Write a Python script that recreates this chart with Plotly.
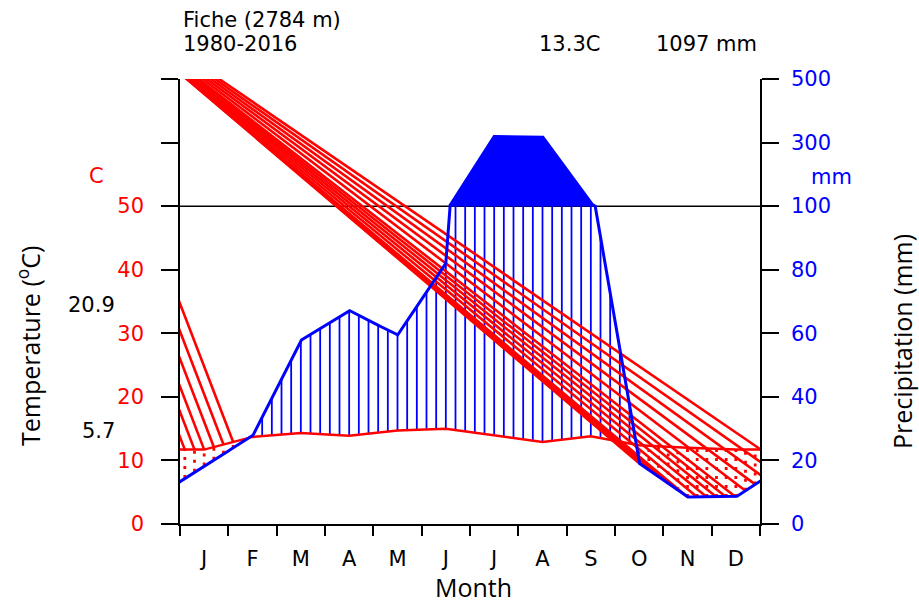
import numpy as np
import plotly.graph_objects as go

# ---------------- data ----------------
months = ["J", "F", "M", "A", "M", "J", "J", "A", "S", "O", "N", "D"]
temp_mean = [11.7, 13.7, 14.3, 13.9, 14.7, 15.0, 13.9, 12.9, 13.8, 12.4, 12.0, 11.7]
precip_mm = [18.4, 27.6, 57.8, 67.2, 59.4, 82.0, 319.0, 319.0, 108.0, 19.1, 8.5, 8.5]
station = "Fiche (2784 m)"
period = "1980-2016"
annual_temp = "13.3C"
annual_precip = "1097 mm"
max_warm_month = "20.9"
min_cold_month = "5.7"
temp_tick_vals = [0, 10, 20, 30, 40, 50]
precip_tick_vals = [0, 10, 20, 30, 40, 50, 60, 70]
precip_tick_text = ["0", "20", "40", "60", "80", "100", "300", "500"]

RED = "#FF0000"
BLUE = "#0000FF"
W, H = 919, 604
L, R, T, B = 180, 159, 79, 80
PW, PH = W - L - R, H - T - B


def scale_p(p):
    p = np.asarray(p, float)
    return np.where(p <= 100, p / 2.0, 50 + (p - 100) / 20.0)


def px(xp):
    return (xp - L) / PW


def py(yp):
    return (H - B - yp) / PH


x_ext = np.concatenate([[-0.5], np.arange(12) + 0.5, [12.5]])
t_ext = np.array([temp_mean[-1]] + temp_mean + [temp_mean[0]])
p_ext = np.array([precip_mm[-1]] + precip_mm + [precip_mm[0]])

# hatching grid of 0.2 month
xg = -0.5 + 0.2 * np.arange(66)
tg = np.interp(xg, x_ext, t_ext)
pg = scale_p(np.interp(xg, x_ext, p_ext))

# fine curve for compressed precipitation line
xf = np.linspace(-0.5, 12.5, 2601)
pf = scale_p(np.interp(xf, x_ext, p_ext))

fig = go.Figure()

# 100 mm reference line
fig.add_trace(go.Scatter(x=[0, 12], y=[50, 50], mode="lines",
                         line=dict(color="black", width=1.5), hoverinfo="skip"))

# filled area above 100 mm
m = pf > 50
fx = np.concatenate([xf[m], xf[m][::-1]])
fy = np.concatenate([pf[m], np.full(m.sum(), 50.0)])
fig.add_trace(go.Scatter(x=fx, y=fy, mode="lines", fill="toself", fillcolor=BLUE,
                         line=dict(color=BLUE, width=0.5), hoverinfo="skip"))

# wet period vertical lines
wx, wy = [], []
for x, t, p in zip(xg, tg, pg):
    if p > t:
        wx += [x, x, None]
        wy += [t, min(p, 50), None]
fig.add_trace(go.Scatter(x=wx, y=wy, mode="lines", line=dict(color=BLUE, width=1.8),
                         hoverinfo="skip"))

# dry period dotted lines
dx, dy = [], []
for x, t, p in zip(xg, tg, pg):
    if t > p:
        dx += [x, x, None]
        dy += [p, t, None]
fig.add_trace(go.Scatter(x=dx, y=dy, mode="lines",
                         line=dict(color=RED, width=2.8, dash="3px,6px"), hoverinfo="skip"))

# slanted red hatching of the dry periods, as it appears in the reference
# early-year part: parallel strokes ending on the temperature curve
slope_jan = 19.8          # deg C per month
hx, hy = [], []
for x, t, p in zip(xg, tg, pg):
    if t > p and 0.0 < x < 1.2:
        hx += [x - 2.0, x, None]
        hy += [t + 2.0 * slope_jan, t, None]
# late-year part: strokes converging towards a point far up-left
ox, oy = -2.65, 88.0
for x, t, p in zip(xg, tg, pg):
    if t > p and x > 6:
        hx += [ox, x, None]
        hy += [oy, p, None]
fig.add_trace(go.Scatter(x=hx, y=hy, mode="lines", line=dict(color=RED, width=2.6),
                         hoverinfo="skip"))

# temperature curve
fig.add_trace(go.Scatter(x=x_ext, y=t_ext, mode="lines", line=dict(color=RED, width=2.5),
                         hoverinfo="skip"))
# precipitation curve
fig.add_trace(go.Scatter(x=xf, y=pf, mode="lines", line=dict(color=BLUE, width=3),
                         hoverinfo="skip"))
# invisible trace for the right axis
fig.add_trace(go.Scatter(x=[0], y=[0], yaxis="y2", mode="markers",
                         marker=dict(opacity=0), hoverinfo="skip"))

TF = "DejaVu Sans"
FS = 21
fig.update_layout(
    width=W, height=H, margin=dict(l=L, r=R, t=T, b=B),
    paper_bgcolor="white", plot_bgcolor="white", showlegend=False,
    xaxis=dict(range=[0, 12], showgrid=False, zeroline=False, showline=True,
               linecolor="black", linewidth=1.5,
               tickvals=[i + 0.5 for i in range(12)], ticktext=months, ticks="",
               tickfont=dict(family=TF, size=FS, color="black"),
               ticklabelstandoff=15,
               minor=dict(tickvals=list(range(13)), ticks="outside", ticklen=10,
                          tickcolor="black", tickwidth=1.5, showgrid=False)),
    yaxis=dict(range=[0, 70], showgrid=False, zeroline=False, showline=True,
               linecolor="black", linewidth=1.5, tickvals=temp_tick_vals,
               ticks="outside", ticklen=17, tickwidth=1.5,
               tickcolor="black", tickfont=dict(family=TF, size=FS, color=RED),
               ticklabelstandoff=13,
               minor=dict(tickvals=[60, 70], ticks="outside", ticklen=17,
                          tickcolor="black", tickwidth=1.5, showgrid=False)),
    yaxis2=dict(range=[0, 70], overlaying="y", side="right", showgrid=False,
                zeroline=False, showline=True, linecolor="black", linewidth=1.5,
                tickvals=precip_tick_vals, ticktext=precip_tick_text, ticks="outside",
                ticklen=17, tickwidth=1.5, tickcolor="black",
                tickfont=dict(family=TF, size=FS, color=BLUE), ticklabelstandoff=8),
)

ann = [
    dict(text=station, x=px(181), y=py(20), xanchor="left", yanchor="middle",
         font=dict(family=TF, size=FS, color="black")),
    dict(text=period, x=px(181), y=py(44), xanchor="left", yanchor="middle",
         font=dict(family=TF, size=FS, color="black")),
    dict(text=annual_temp, x=px(569), y=py(44), xanchor="center", yanchor="middle",
         font=dict(family=TF, size=FS, color="black")),
    dict(text=annual_precip, x=px(759), y=py(44), xanchor="right", yanchor="middle",
         font=dict(family=TF, size=FS, color="black")),
    dict(text="C", x=px(96), y=py(176), xanchor="center", yanchor="middle",
         font=dict(family=TF, size=FS, color=RED)),
    dict(text="mm", x=px(831), y=py(177), xanchor="center", yanchor="middle",
         font=dict(family=TF, size=FS, color=BLUE)),
    dict(text=max_warm_month, x=px(117), y=py(305), xanchor="right", yanchor="middle",
         font=dict(family=TF, size=FS, color="black")),
    dict(text=min_cold_month, x=px(117), y=py(431), xanchor="right", yanchor="middle",
         font=dict(family=TF, size=FS, color="black")),
    dict(text="Temperature (<sup>o</sup>C)", x=px(28), y=py(346), textangle=-90,
         xanchor="center", yanchor="middle",
         font=dict(family="Open Sans", size=25, color="black")),
    dict(text="Precipitation (mm)", x=px(902), y=py(342), textangle=-90,
         xanchor="center", yanchor="middle",
         font=dict(family="Open Sans", size=25, color="black")),
    dict(text="Month", x=px(473), y=py(587), xanchor="center", yanchor="middle",
         font=dict(family="Open Sans", size=25, color="black")),
]
for a in ann:
    a.update(xref="paper", yref="paper", showarrow=False)
fig.update_layout(annotations=ann)

fig.write_html("out.html", config={"displayModeBar": False},
               post_script="document.body.style.margin='0px';")
